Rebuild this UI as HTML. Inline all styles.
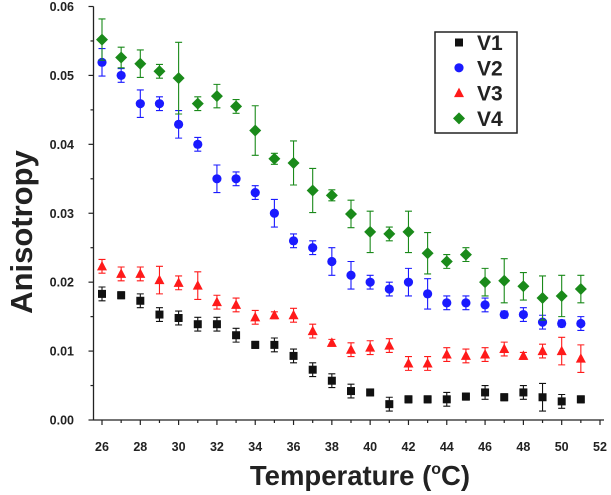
<!DOCTYPE html>
<html><head><meta charset="utf-8"><style>
body{margin:0;background:#fff;}
svg{display:block;font-family:"Liberation Sans",Arial,sans-serif;}
</style></head><body>
<svg id="chart" width="611" height="495" viewBox="0 0 611 495" xmlns="http://www.w3.org/2000/svg">
<g id="axes"></g>
<g id="marks"></g>
<text transform="translate(32,232) rotate(-90)" text-anchor="middle" font-size="31" font-weight="bold" fill="#222">Anisotropy</text>
<text x="360" y="485" text-anchor="middle" font-size="27.5" font-weight="bold" fill="#222">Temperature (<tspan font-size="16" dy="-11">o</tspan><tspan dy="11">C)</tspan></text>
<g>
<rect x="435" y="32" width="82" height="101" fill="#fff" stroke="#222" stroke-width="1.5"/>
<g id="legend-items"></g>
</g>
</svg>
<script>
const temps=[26,27,28,29,30,31,32,33,34,35,36,37,38,39,40,41,42,43,44,45,46,47,48,49,50,51];
const v1=[.0183,.0181,.0173,.0153,.0148,.0139,.0139,.0123,.0109,.0109,.0093,.0073,.0057,.0042,.0040,.0023,.0030,.0030,.0030,.0034,.0040,.0033,.0040,.0033,.0027,.0030];
const v1Err=[.001,.0005,.001,.001,.001,.001,.001,.001,.0005,.001,.001,.001,.001,.001,.0005,.001,.0005,.0005,.001,.0005,.001,.0005,.001,.002,.001,.0005];
const v2=[.0519,.050,.0459,.0459,.0429,.040,.035,.035,.033,.030,.026,.025,.023,.021,.020,.019,.020,.0183,.017,.017,.0167,.0153,.0153,.0142,.014,.014];
const v2Err=[.002,.001,.002,.001,.002,.001,.002,.001,.001,.002,.001,.001,.002,.002,.001,.001,.002,.0022,.001,.001,.001,.0005,.001,.001,.0005,.001];
const v3=[.0223,.0212,.0212,.0203,.0199,.0195,.0171,.0167,.0149,.0152,.0152,.0129,.0112,.0102,.0105,.0108,.0082,.0082,.0095,.0093,.0095,.0103,.0093,.0100,.0100,.0089];
const v3Err=[.001,.001,.001,.002,.001,.002,.001,.001,.001,.0005,.001,.001,.0005,.001,.001,.001,.001,.001,.001,.001,.001,.001,.0005,.001,.002,.002];
const v4=[.0552,.0526,.0517,.0506,.0496,.0459,.047,.0455,.042,.0379,.0373,.0333,.0326,.0299,.0273,.027,.0273,.0242,.023,.024,.020,.0202,.0194,.0177,.018,.019];
const v4Err=[.003,.0015,.002,.001,.0052,.001,.0017,.001,.0036,.0008,.0032,.0032,.0008,.002,.003,.001,.003,.003,.001,.001,.002,.0032,.002,.0032,.003,.002];
const xTicks=[26,28,30,32,34,36,38,40,42,44,46,48,50,52];
const yTicks=[0,0.01,0.02,0.03,0.04,0.05,0.06];
const seriesNames=["V1","V2","V3","V4"];

const NS="http://www.w3.org/2000/svg";
const X0=93.5,X1=604,Y0=420,Y1=6.5;
const xs=t=>102+(t-26)*(600-102)/26;
const ys=v=>Y0-(v/0.06)*(Y0-Y1);
function mk(tag,attrs,parent){const e=document.createElementNS(NS,tag);for(const k in attrs)e.setAttribute(k,attrs[k]);parent.appendChild(e);return e;}
const axes=document.getElementById('axes');
const yl=mk('line',{x1:X0,y1:Y0,x2:X0,y2:Y1,stroke:'#222','stroke-width':1.3},axes);


const xl=mk('line',{x1:X0,y1:Y0,x2:X1,y2:Y0,stroke:'#222','stroke-width':1.3},axes);


for(let i=0;i<=12;i++){const v=i*0.005;const y=ys(v);
 mk('line',{x1:X0-(i%2?3:5),y1:y,x2:X0,y2:y,stroke:'#222','stroke-width':1.2},axes);}
yTicks.forEach(v=>{const t=mk('text',{x:74,y:ys(v)+4.5,'text-anchor':'end','font-size':12.5,'font-weight':'bold',fill:'#222'},axes);t.textContent=v.toFixed(2);
 
 });
for(let t=26;t<=52;t++){const x=xs(t);mk('line',{x1:x,y1:Y0,x2:x,y2:Y0+(t%2?3:5),stroke:'#222','stroke-width':1.2},axes);}
xTicks.forEach(v=>{const t=mk('text',{x:xs(v),y:451,'text-anchor':'middle','font-size':12.5,'font-weight':'bold',fill:'#222'},axes);t.textContent=v;
 
 });

const marks=document.getElementById('marks');
const colors=['#111','#1a1aff','#ff1a1a','#1a8a1a'];
function marker(kind,x,y,c,parent){
 if(kind===0)return mk('rect',{x:x-4,y:y-4,width:8,height:8,fill:c},parent);
 if(kind===1)return mk('circle',{cx:x,cy:y,r:4.6,fill:c},parent);
 if(kind===2)return mk('polygon',{points:`${x},${y-5.5} ${x+5},${y+4} ${x-5},${y+4}`,fill:c},parent);
 return mk('polygon',{points:`${x},${y-6} ${x+6},${y} ${x},${y+6} ${x-6},${y}`,fill:c},parent);
}
const allVals=[v1,v2,v3,v4],allErr=[v1Err,v2Err,v3Err,v4Err];
allVals.forEach((vals,s)=>{
 const g=mk('g',{},marks);
 
 
 vals.forEach((v,i)=>{const x=xs(temps[i]);const e=allErr[s][i];const c=colors[s];
  const yt=ys(v+e),yb=ys(v-e);
  const eb=mk('path',{d:`M${x},${yt}V${yb}M${x-3.5},${yt}H${x+3.5}M${x-3.5},${yb}H${x+3.5}`,stroke:c,'stroke-width':1.1,fill:'none'},g);
  
  
  const m=marker(s,x,ys(v),c,g);
  
  
 });
});
const li=document.getElementById('legend-items');
seriesNames.forEach((n,s)=>{const y=42.5+s*25.3;
 const m=marker(s,459,y,colors[s],li);
 
 
 const t=mk('text',{x:477,y:y+7.5,'font-size':21,'font-weight':'bold',fill:'#222'},li);t.textContent=n;
 
 
});
</script>
</body></html>
